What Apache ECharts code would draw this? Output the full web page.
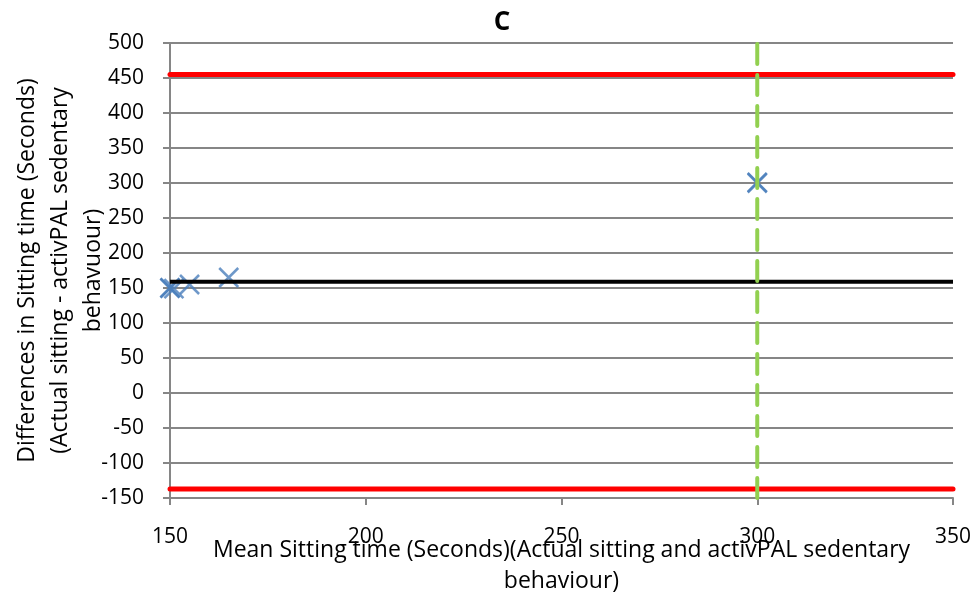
<!DOCTYPE html>
<html><head><meta charset="utf-8">
<script src="https://cdn.jsdelivr.net/npm/echarts@6/dist/echarts.min.js"></script>
<style>html,body{margin:0;padding:0;background:#fff}#c{width:973px;height:599px}</style>
</head><body><div id="c"></div>
<script>
// Data
const meanSitting = [150, 150, 151, 155, 165, 300, 300];
const differences = [150, 150, 149, 155, 165, 300, 301];
const meanDifference = 159;
const upperLimit = 455;
const lowerLimit = -137;
const referenceX = 300;
const xRange = [150, 350];
const yRange = [-150, 500];
const titleText = 'C';
const xTitle = 'Mean Sitting time (Seconds)(Actual sitting and activPAL sedentary\nbehaviour)';
const yTitle = 'Differences in Sitting time (Seconds)\n(Actual sitting - activPAL sedentary\nbehavuour)';

const font = 'Open Sans';
const chart = echarts.init(document.getElementById('c'), null, {renderer: 'canvas'});
const pts = meanSitting.map((x, i) => [x, differences[i]]);
const hline = v => [[xRange[0], v], [xRange[1], v]];
chart.setOption({
  animation: false,
  title: {text: titleText, left: 497, top: 5, textAlign: 'center',
    textStyle: {fontFamily: font, fontSize: 26, fontWeight: 'bold', color: '#000'}},
  grid: {left: 170, right: 20, top: 43, bottom: 101, containLabel: false, outerBoundsMode: 'none'},
  xAxis: {type: 'value', min: xRange[0], max: xRange[1], interval: 50,
    name: xTitle, nameLocation: 'middle', nameGap: 37, nameMoveOverlap: false,
    nameTextStyle: {fontFamily: font, fontSize: 23, color: '#000', lineHeight: 31},
    axisLine: {show: true, onZero: false, lineStyle: {color: '#868686', width: 2}},
    axisTick: {show: true, length: 7, lineStyle: {color: '#868686', width: 2}},
    axisLabel: {fontFamily: font, fontSize: 21, color: '#000', margin: 29},
    splitLine: {show: false}},
  yAxis: {type: 'value', min: yRange[0], max: yRange[1], interval: 50,
    name: yTitle, nameLocation: 'middle', nameGap: 60, nameRotate: 90, nameMoveOverlap: false,
    nameTextStyle: {fontFamily: font, fontSize: 23, color: '#000', lineHeight: 33, align: 'center'},
    axisLine: {show: true, onZero: false, lineStyle: {color: '#868686', width: 2}},
    axisTick: {show: true, length: 7, lineStyle: {color: '#868686', width: 2}},
    axisLabel: {fontFamily: font, fontSize: 21, color: '#000', margin: 26},
    splitLine: {show: true, lineStyle: {color: '#868686', width: 2}}},
  series: [
    {type: 'line', data: hline(upperLimit), symbol: 'none', silent: true,
      lineStyle: {color: '#FF0000', width: 5, cap: 'round'}},
    {type: 'line', data: hline(lowerLimit), symbol: 'none', silent: true,
      lineStyle: {color: '#FF0000', width: 5, cap: 'round'}},
    {type: 'line', data: hline(meanDifference), symbol: 'none', silent: true,
      lineStyle: {color: '#000000', width: 4}},
    {type: 'line', data: [[referenceX, yRange[0]], [referenceX, yRange[1]]], symbol: 'none', silent: true,
      lineStyle: {color: '#92D050', width: 4, type: [20, 11], cap: 'round'}},
    {type: 'scatter', data: pts, symbol: 'path://M0,0L10,10M10,0L0,10', symbolSize: 19,
      itemStyle: {color: 'rgba(0,0,0,0)', borderColor: '#4A7EBB', borderWidth: 2.5}}
  ]
});
</script></body></html>
